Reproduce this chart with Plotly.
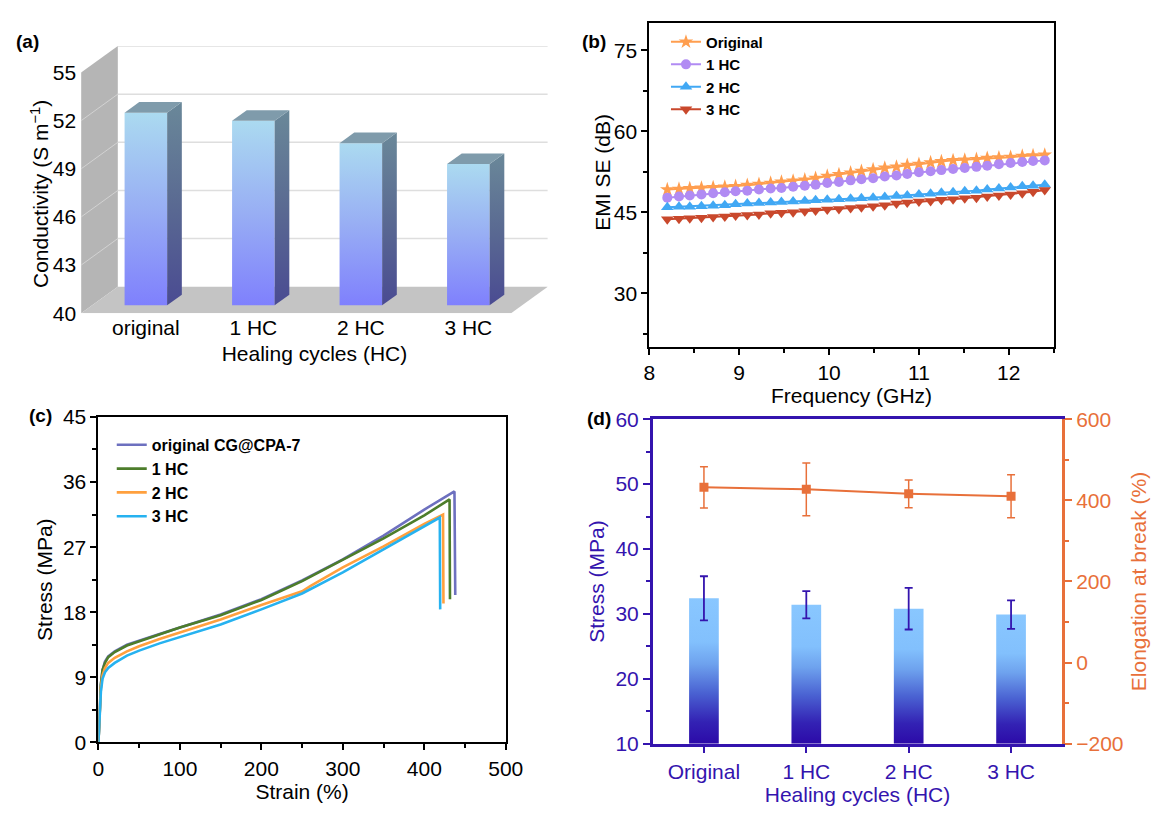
import plotly.graph_objects as go

W, H = 1153, 815
FONT = "Liberation Sans, Arial, Helvetica, sans-serif"


def fx(p):
    return p / W


def fy(p):
    return 1 - p / H


# ---------------- data ----------------
# (a) conductivity
cond_labels = ["original", "1 HC", "2 HC", "3 HC"]
cond_values = [52.0, 51.5, 50.1, 48.8]
cond_ticks = [40, 43, 46, 49, 52, 55]

# (b) EMI SE
freq_ghz = [8.20, 8.33, 8.45, 8.58, 8.71, 8.84, 8.96, 9.09, 9.22, 9.35, 9.47, 9.60,
            9.73, 9.85, 9.98, 10.11, 10.24, 10.36, 10.49, 10.62, 10.75, 10.87, 11.00,
            11.13, 11.25, 11.38, 11.51, 11.64, 11.76, 11.89, 12.02, 12.15, 12.27, 12.40]
se_original = [49.2, 49.3, 49.4, 49.5, 49.6, 49.7, 49.8, 50.0, 50.2, 50.4, 50.6, 50.8,
               51.0, 51.3, 51.7, 52.0, 52.3, 52.6, 52.9, 53.2, 53.4, 53.7, 53.9,
               54.2, 54.4, 54.6, 54.7, 54.8, 55.0, 55.1, 55.2, 55.4, 55.5, 55.6]
se_1hc = [47.7, 47.9, 48.1, 48.3, 48.5, 48.7, 48.9, 49.0, 49.2, 49.4, 49.5, 49.7,
          49.9, 50.1, 50.4, 50.6, 50.9, 51.1, 51.3, 51.6, 51.8, 52.1, 52.4,
          52.6, 52.8, 53.0, 53.2, 53.4, 53.6, 53.9, 54.1, 54.3, 54.5, 54.6]
se_2hc = [45.9, 46.0, 46.0, 46.1, 46.2, 46.3, 46.5, 46.6, 46.7, 46.8, 46.9, 47.0,
          47.1, 47.2, 47.3, 47.4, 47.5, 47.6, 47.7, 47.8, 48.0, 48.1, 48.3,
          48.4, 48.6, 48.7, 48.9, 49.0, 49.2, 49.4, 49.6, 49.8, 49.9, 50.1]
se_3hc = [43.7, 43.8, 43.9, 44.0, 44.1, 44.2, 44.4, 44.5, 44.6, 44.8, 44.9, 45.0,
          45.2, 45.3, 45.5, 45.6, 45.8, 45.9, 46.1, 46.3, 46.6, 46.8, 47.0,
          47.1, 47.3, 47.4, 47.6, 47.7, 47.9, 48.1, 48.3, 48.5, 48.8, 49.1]

# (c) stress-strain
strain_orig = [0, 1, 2, 3, 5, 8, 12, 20, 35, 50, 75, 100, 150, 200, 250, 300, 350, 400, 437, 438]
stress_orig = [0, 3.0, 6.0, 8.0, 10.0, 11.2, 11.9, 12.6, 13.5, 14.1, 15.0, 15.9, 17.7, 19.8,
               22.4, 25.3, 28.6, 32.2, 34.7, 20.4]
strain_1hc = [0, 1, 2, 3, 5, 8, 12, 20, 35, 50, 75, 100, 150, 200, 250, 300, 350, 400, 431, 431.5]
stress_1hc = [0, 3.0, 6.0, 8.0, 10.0, 11.0, 11.8, 12.5, 13.4, 14.0, 15.0, 15.9, 17.6, 19.7,
              22.3, 25.2, 28.2, 31.4, 33.6, 19.8]
strain_2hc = [0, 1, 2, 3, 5, 8, 12, 20, 35, 50, 75, 100, 150, 200, 250, 260, 300, 350, 400, 423, 423.5]
stress_2hc = [0, 2.8, 5.5, 7.5, 9.3, 10.3, 11.0, 11.7, 12.6, 13.3, 14.3, 15.2, 17.0, 19.0,
              20.9, 21.6, 24.2, 27.1, 30.2, 31.5, 19.2]
strain_3hc = [0, 1, 2, 3, 5, 8, 12, 20, 35, 50, 75, 100, 150, 200, 250, 300, 350, 400, 419, 419.5]
stress_3hc = [0, 2.5, 5.0, 7.0, 8.8, 9.7, 10.3, 11.0, 12.0, 12.7, 13.7, 14.6, 16.3, 18.4,
              20.6, 23.5, 26.7, 30.0, 31.1, 18.4]

# (d) mechanical summary
d_labels = ["Original", "1 HC", "2 HC", "3 HC"]
d_stress = [32.4, 31.4, 30.8, 29.9]
d_stress_err = [3.4, 2.1, 3.2, 2.2]
d_elong = [432, 427, 416, 410]
d_elong_err = [51, 65, 34, 53]

# ---------------- figure ----------------
fig = go.Figure()

# ---- panel (a): pseudo-3D bars ----
DX, DY = 0.3415, 1.656      # full depth offset in axis units
D0, D1 = 0.30, 0.70         # bar depth span
BW = 0.396                  # bar width
C0, C1 = -0.5, 3.5
V0, VT = cond_ticks[0], cond_ticks[-1]


def P(c, v, d):
    return c + d * DX, v + d * DY


def add_poly(points, color=None, grad=None, xa="x", ya="y"):
    xs = [p[0] for p in points] + [points[0][0]]
    ys = [p[1] for p in points] + [points[0][1]]
    kw = dict(x=xs, y=ys, mode="lines", fill="toself",
              line=dict(width=0, color="rgba(0,0,0,0)"),
              hoverinfo="skip", showlegend=False, xaxis=xa, yaxis=ya)
    if grad is not None:
        kw["fillgradient"] = dict(type="vertical", colorscale=grad)
    else:
        kw["fillcolor"] = color
    fig.add_trace(go.Scatter(**kw))


# left wall and floor
add_poly([P(C0, V0, 0), P(C0, V0, 1), P(C0, VT, 1), P(C0, VT, 0)], color="#b5b5b5")
add_poly([P(C0, V0, 0), P(C1, V0, 0), P(C1, V0, 1), P(C0, V0, 1)], color="#c4c4c4")

# back-wall gridlines
gx, gy = [], []
for v in cond_ticks[1:]:
    a, b = P(C0, v, 1), P(C1, v, 1)
    gx += [a[0], b[0], None]
    gy += [a[1], b[1], None]
fig.add_trace(go.Scatter(x=gx, y=gy, mode="lines", line=dict(color="#dedede", width=1.5),
                         hoverinfo="skip", showlegend=False, xaxis="x", yaxis="y"))
# left-wall gridlines
lx, ly = [], []
for v in cond_ticks[1:-1]:
    a, b = P(C0, v, 0), P(C0, v, 1)
    lx += [a[0], b[0], None]
    ly += [a[1], b[1], None]
fig.add_trace(go.Scatter(x=lx, y=ly, mode="lines", line=dict(color="#d2d2d2", width=1),
                         hoverinfo="skip", showlegend=False, xaxis="x", yaxis="y"))

front_grad = [[0, "#7f80fd"], [0.5, "#98aef4"], [1, "#abdaf0"]]
side_grad = [[0, "#4a4b92"], [0.5, "#5a6a92"], [1, "#6a8899"]]
for i, v in enumerate(cond_values):
    cl, cr = i - BW / 2, i + BW / 2
    add_poly([P(cl, V0, D0), P(cr, V0, D0), P(cr, v, D0), P(cl, v, D0)], grad=front_grad)
    add_poly([P(cr, V0, D0), P(cr, V0, D1), P(cr, v, D1), P(cr, v, D0)], grad=side_grad)
    add_poly([P(cl, v, D0), P(cr, v, D0), P(cr, v, D1), P(cl, v, D1)], color="#7f9bab")

# ---- panel (b): EMI SE ----
b_series = [
    ("Original", se_original, "#ff9e4f", "star", 11),
    ("1 HC", se_1hc, "#b18bf3", "circle", 10),
    ("2 HC", se_2hc, "#41a8f4", "triangle-up", 11),
    ("3 HC", se_3hc, "#c9482c", "triangle-down", 11),
]
for name, ys, col, sym, sz in b_series:
    fig.add_trace(go.Scatter(x=freq_ghz, y=ys, name=name, mode="lines+markers",
                             line=dict(color=col, width=2),
                             marker=dict(symbol=sym, size=sz, color=col),
                             xaxis="x2", yaxis="y2", legend="legend"))

# ---- panel (c): stress-strain ----
c_series = [
    ("original CG@CPA-7", strain_orig, stress_orig, "#6d70bf"),
    ("1 HC", strain_1hc, stress_1hc, "#4d7d2b"),
    ("2 HC", strain_2hc, stress_2hc, "#ffa03e"),
    ("3 HC", strain_3hc, stress_3hc, "#26b2f0"),
]
for name, xs, ys, col in c_series:
    fig.add_trace(go.Scatter(x=xs, y=ys, name=name, mode="lines",
                             line=dict(color=col, width=2.6),
                             xaxis="x3", yaxis="y3", legend="legend2"))

# ---- panel (d): stress bars + elongation ----
BLUE = "#3414ae"
ORANGE = "#e8703a"
d_grad = [[0, "#2c0aa8"], [0.15, "#3322b4"], [0.35, "#4a62d2"], [0.55, "#6ea2ee"],
          [0.7, "#82c0fd"], [1, "#89c7ff"]]
DBW = 0.29
for i, v in enumerate(d_stress):
    add_poly([(i - DBW / 2, 10), (i + DBW / 2, 10), (i + DBW / 2, v), (i - DBW / 2, v)],
             grad=d_grad, xa="x4", ya="y4")
fig.add_trace(go.Scatter(x=list(range(len(d_stress))), y=d_stress, mode="markers",
                         marker=dict(size=2, opacity=0),
                         error_y=dict(type="data", array=d_stress_err, color=BLUE,
                                      thickness=1.8, width=4),
                         showlegend=False, hoverinfo="skip", xaxis="x4", yaxis="y4"))
fig.add_trace(go.Scatter(x=list(range(len(d_elong))), y=d_elong, mode="lines+markers",
                         line=dict(color=ORANGE, width=2),
                         marker=dict(symbol="square", size=9, color=ORANGE),
                         error_y=dict(type="data", array=d_elong_err, color=ORANGE,
                                      thickness=1.5, width=4),
                         showlegend=False, xaxis="x4", yaxis="y5"))

# ---------------- layout ----------------
tickfont = dict(family=FONT, size=21, color="black")
black_axis = dict(showline=True, linecolor="black", linewidth=2, mirror=True,
                  ticks="outside", ticklen=6, tickwidth=2, tickcolor="black",
                  showgrid=False, zeroline=False, tickfont=tickfont)

fig.update_layout(
    width=W, height=H,
    margin=dict(l=0, r=0, t=0, b=0),
    paper_bgcolor="white", plot_bgcolor="rgba(0,0,0,0)",
    font=dict(family=FONT, size=21, color="black"),
    # (a)
    xaxis=dict(domain=[fx(76.7), fx(553.3)], range=[C0, C1 + DX], anchor="y",
               tickvals=[i + D0 * DX for i in range(len(cond_labels))], ticktext=cond_labels,
               ticks="", showline=False, showgrid=False, zeroline=False, tickfont=tickfont,
               title=dict(text="Healing cycles (HC)", font=dict(family=FONT, size=21), standoff=8)),
    yaxis=dict(domain=[fy(310), fy(35)], range=[V0, VT + DY], anchor="x",
               tickvals=cond_ticks, ticks="", ticklen=0, showline=False, showgrid=False,
               zeroline=False, tickfont=tickfont, ticklabelstandoff=4),
    # (b)
    xaxis2=dict(domain=[fx(657), fx(1070)], range=[8, 12.5], anchor="y2", tick0=8, dtick=1,
                minor=dict(dtick=0.5, tick0=8, ticks="outside", ticklen=4, tickwidth=1.5,
                           tickcolor="black"),
                title=dict(text="Frequency (GHz)", font=dict(family=FONT, size=21), standoff=2),
                **black_axis),
    yaxis2=dict(domain=[fy(345), fy(11.5)], range=[20, 80], anchor="x2", tick0=30, dtick=15,
                minor=dict(dtick=7.5, tick0=30, ticks="outside", ticklen=4, tickwidth=1.5,
                           tickcolor="black"),
                **black_axis),
    # (c)
    xaxis3=dict(domain=[fx(94.4), fx(510.4)], range=[0, 500], anchor="y3", tick0=0, dtick=100,
                minor=dict(dtick=50, tick0=0, ticks="outside", ticklen=4, tickwidth=1.5,
                           tickcolor="black"),
                title=dict(text="Strain (%)", font=dict(family=FONT, size=21), standoff=4),
                **black_axis),
    yaxis3=dict(domain=[fy(751.7), fy(416.7)], range=[0, 45], anchor="x3", tick0=0, dtick=9,
                minor=dict(dtick=4.5, tick0=0, ticks="outside", ticklen=4, tickwidth=1.5,
                           tickcolor="black"),
                title=dict(text="Stress (MPa)", font=dict(family=FONT, size=21), standoff=5),
                **black_axis),
    # (d)
    xaxis4=dict(domain=[fx(660.5), fx(1078.7)], range=[-0.5, 3.5], anchor="y4",
                tickvals=list(range(len(d_labels))), ticktext=d_labels,
                showline=True, linecolor=BLUE, linewidth=2.5, mirror=True,
                ticks="outside", ticklen=7, tickwidth=2, tickcolor=BLUE,
                showgrid=False, zeroline=False,
                tickfont=dict(family=FONT, size=21, color=BLUE),
                title=dict(text="Healing cycles (HC)", font=dict(family=FONT, size=21, color=BLUE),
                           standoff=6)),
    yaxis4=dict(domain=[fy(753), fy(419)], range=[10, 60], anchor="x4", tick0=10, dtick=10,
                minor=dict(dtick=5, tick0=10, ticks="outside", ticklen=4, tickwidth=2,
                           tickcolor=BLUE),
                showline=True, linecolor=BLUE, linewidth=2.5, mirror=False,
                ticks="outside", ticklen=7, tickwidth=2, tickcolor=BLUE,
                showgrid=False, zeroline=False,
                tickfont=dict(family=FONT, size=21, color=BLUE),
                title=dict(text="Stress (MPa)", font=dict(family=FONT, size=21, color=BLUE),
                           standoff=6)),
    yaxis5=dict(overlaying="y4", side="right", anchor="x4", range=[-200, 600], tick0=-200,
                dtick=200,
                minor=dict(dtick=100, tick0=-200, ticks="outside", ticklen=4, tickwidth=2,
                           tickcolor=ORANGE),
                showline=True, linecolor=ORANGE, linewidth=2.5,
                ticks="outside", ticklen=7, tickwidth=2, tickcolor=ORANGE,
                showgrid=False, zeroline=False,
                tickfont=dict(family=FONT, size=21, color=ORANGE),
                title=dict(text="Elongation at break (%)",
                           font=dict(family=FONT, size=21, color=ORANGE), standoff=9)),
    legend=dict(x=fx(674), y=fy(14), xanchor="left", yanchor="top",
                bgcolor="rgba(0,0,0,0)", font=dict(family=FONT, size=15, weight="bold"),
                tracegroupgap=0),
    legend2=dict(x=fx(108), y=fy(428), xanchor="left", yanchor="top",
                 bgcolor="rgba(0,0,0,0)", font=dict(family=FONT, size=16, weight="bold"),
                 tracegroupgap=0),
)

# panel labels and y titles that sit off-centre
ann = [
    dict(text="<b>(a)</b>", x=fx(22), y=fy(30)),
    dict(text="<b>(b)</b>", x=fx(600), y=fy(30)),
    dict(text="<b>(c)</b>", x=fx(35), y=fy(415)),
    dict(text="<b>(d)</b>", x=fx(606), y=fy(418)),
]
for a in ann:
    fig.add_annotation(xref="paper", yref="paper", showarrow=False, xanchor="center",
                       yanchor="middle", font=dict(family=FONT, size=19, color="black"), **a)
fig.add_annotation(text="Conductivity (S m<sup>−1</sup>)", x=fx(34), y=fy(187), xref="paper",
                   yref="paper", showarrow=False, textangle=-90, xanchor="center",
                   yanchor="middle", font=dict(family=FONT, size=21, color="black"))
fig.add_annotation(text="EMI SE (dB)", x=fx(609), y=fy(165), xref="paper", yref="paper",
                   showarrow=False, textangle=-90, xanchor="center", yanchor="middle",
                   font=dict(family=FONT, size=21, color="black"))

fig.write_html("out.html")
